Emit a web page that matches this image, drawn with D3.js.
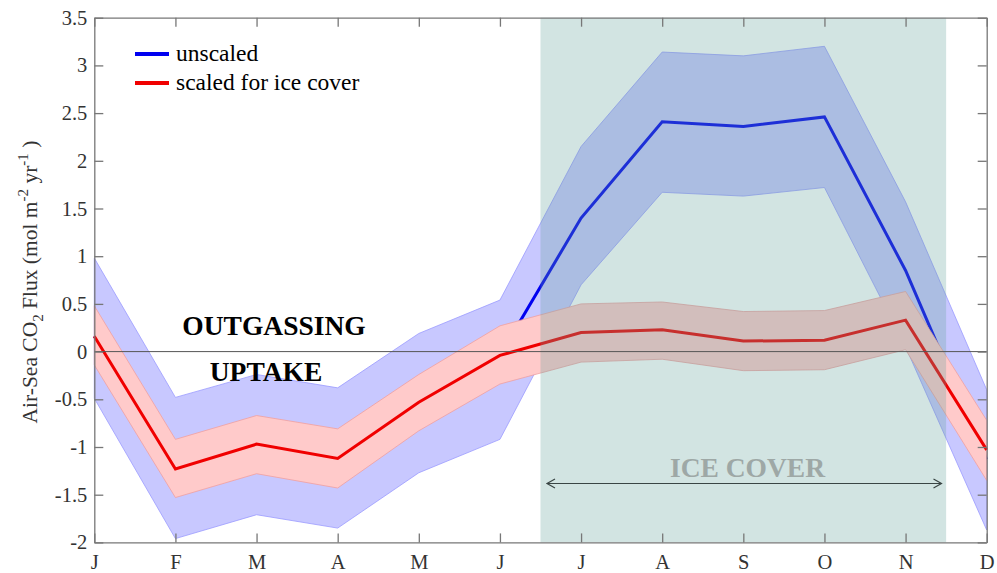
<!DOCTYPE html>
<html>
<head>
<meta charset="utf-8">
<script src="https://cdn.jsdelivr.net/npm/d3@7"></script>
<style>
  body { margin: 0; background: #fff; }
  svg { display: block; font-family: "Liberation Serif", "Times New Roman", serif; }
</style>
</head>
<body>
<script>
// month labels on the x axis
const months = ["J", "F", "M", "A", "M", "J", "J", "A", "S", "O", "N", "D"];
const yTicks = [-2, -1.5, -1, -0.5, 0, 0.5, 1, 1.5, 2, 2.5, 3, 3.5];

// unscaled flux, mean and 95% band
const unscaledMean  = [0.16, -1.23, -0.97, -1.12, -0.53, -0.04, 1.40, 2.41, 2.36, 2.46, 0.85, -1.13];
const unscaledUpper = [0.98, -0.48, -0.24, -0.38, 0.19, 0.54, 2.15, 3.14, 3.10, 3.20, 1.57, -0.40];
const unscaledLower = [-0.49, -1.96, -1.71, -1.85, -1.27, -0.92, 0.70, 1.67, 1.63, 1.72, 0.05, -1.87];

// flux scaled for ice cover
const scaledMean  = [0.16, -1.23, -0.97, -1.12, -0.53, -0.04, 0.20, 0.23, 0.11, 0.12, 0.33, -1.03];
const scaledUpper = [0.48, -0.92, -0.67, -0.81, -0.24, 0.27, 0.50, 0.52, 0.42, 0.43, 0.63, -0.72];
const scaledLower = [-0.14, -1.53, -1.28, -1.43, -0.83, -0.34, -0.11, -0.08, -0.20, -0.19, 0.02, -1.35];

// ice cover period (month index)
const iceSpan = [5.5, 10.5];

const width = 997, height = 573;
const marginLeft = 94.3, marginRight = 10.3, marginTop = 17.7, marginBottom = 30.6;

const xScale = d3.scaleLinear([0, 11], [marginLeft, width - marginRight]);
const yScale = d3.scaleLinear([-2, 3.5], [height - marginBottom, marginTop]);
const I = d3.range(months.length);

const svg = d3.select("body").append("svg")
      .attr("width", width)
      .attr("height", height)
      .attr("viewBox", [0, 0, width, height]);

function band(lo, hi) {
      return d3.area()
            .x(i => xScale(i))
            .y0(i => yScale(lo[i]))
            .y1(i => yScale(hi[i]))(I);
}
function line(v) {
      return d3.line()
            .x(i => xScale(i))
            .y(i => yScale(v[i]))(I);
}

// unscaled band + line
svg.append("path")
      .attr("d", band(unscaledLower, unscaledUpper))
      .attr("fill", "#c8c8ff")
      .attr("stroke", "#9a9aff")
      .attr("stroke-width", 0.8);
svg.append("path")
      .attr("d", line(unscaledMean))
      .attr("fill", "none")
      .attr("stroke", "#0000f0")
      .attr("stroke-width", 3);

// scaled band + line
svg.append("path")
      .attr("d", band(scaledLower, scaledUpper))
      .attr("fill", "#ffcaca")
      .attr("stroke", "#f0a0a0")
      .attr("stroke-width", 0.8);
svg.append("path")
      .attr("d", line(scaledMean))
      .attr("fill", "none")
      .attr("stroke", "#f00000")
      .attr("stroke-width", 3);

// ice cover shading, drawn over the data
svg.append("rect")
      .attr("x", xScale(iceSpan[0]))
      .attr("y", yScale(3.5))
      .attr("width", xScale(iceSpan[1]) - xScale(iceSpan[0]))
      .attr("height", yScale(-2) - yScale(3.5))
      .attr("fill", "rgb(100,162,155)")
      .attr("fill-opacity", 0.29);

// zero line
svg.append("line")
      .attr("x1", xScale(0))
      .attr("x2", xScale(11))
      .attr("y1", yScale(0))
      .attr("y2", yScale(0))
      .attr("stroke", "#555")
      .attr("stroke-width", 1);

// axes, box with inward ticks
const axisColor = "#777";
const styleAxis = g => {
      g.select(".domain").attr("stroke", axisColor).attr("stroke-width", 1.3);
      g.selectAll(".tick line").attr("stroke", axisColor).attr("stroke-width", 1.3);
      g.selectAll(".tick text").attr("fill", "#333").attr("font-size", 20.5)
            .attr("font-family", "Liberation Serif, serif");
};

svg.append("g")
      .attr("transform", `translate(0,${yScale(-2)})`)
      .call(d3.axisBottom(xScale).tickValues(I).tickFormat(i => months[i])
            .tickSizeInner(-9).tickSizeOuter(0).tickPadding(12))
      .call(styleAxis);
svg.append("g")
      .attr("transform", `translate(0,${yScale(3.5)})`)
      .call(d3.axisTop(xScale).tickValues(I).tickFormat("")
            .tickSizeInner(-9).tickSizeOuter(0))
      .call(styleAxis);
svg.append("g")
      .attr("transform", `translate(${xScale(0)},0)`)
      .call(d3.axisLeft(yScale).tickValues(yTicks).tickFormat(d => String(d))
            .tickSizeInner(-9).tickSizeOuter(0).tickPadding(7))
      .call(styleAxis);
svg.append("g")
      .attr("transform", `translate(${xScale(11)},0)`)
      .call(d3.axisRight(yScale).tickValues(yTicks).tickFormat("")
            .tickSizeInner(-9).tickSizeOuter(0))
      .call(styleAxis);

// y label
const yLabel = svg.append("text")
      .attr("transform", `translate(37,${(yScale(3.5) + yScale(-2)) / 2 + 2}) rotate(-90)`)
      .attr("text-anchor", "middle")
      .attr("font-size", 21.5)
      .attr("fill", "#333");
yLabel.append("tspan").text("Air-Sea CO");
yLabel.append("tspan").attr("font-size", 15).attr("dy", 6).text("2");
yLabel.append("tspan").attr("dy", -6).text(" Flux (mol m");
yLabel.append("tspan").attr("font-size", 15).attr("dy", -9).text("-2");
yLabel.append("tspan").attr("dy", 9).text(" yr");
yLabel.append("tspan").attr("font-size", 15).attr("dy", -9).text("-1");
yLabel.append("tspan").attr("dy", 9).text(" )");

// legend
const legend = [
      {label: "unscaled", color: "#0000f0", y: 54},
      {label: "scaled for ice cover", color: "#f00000", y: 83}
];
legend.forEach(d => {
      svg.append("line")
            .attr("x1", 135).attr("x2", 169)
            .attr("y1", d.y).attr("y2", d.y)
            .attr("stroke", d.color)
            .attr("stroke-width", 4);
      svg.append("text")
            .attr("x", 176).attr("y", d.y + 7)
            .attr("font-size", 23.5)
            .attr("fill", "#000")
            .text(d.label);
});

// annotations
svg.append("text")
      .attr("x", 274).attr("y", 335)
      .attr("text-anchor", "middle")
      .attr("font-size", 27.5).attr("font-weight", "bold")
      .text("OUTGASSING");
svg.append("text")
      .attr("x", 266).attr("y", 381)
      .attr("text-anchor", "middle")
      .attr("font-size", 27.5).attr("font-weight", "bold")
      .text("UPTAKE");

svg.append("text")
      .attr("x", 747.5).attr("y", 477)
      .attr("text-anchor", "middle")
      .attr("font-size", 27.5).attr("font-weight", "bold")
      .attr("fill", "#9ea8a6")
      .text("ICE COVER");

// double arrow across ice cover period
const ay = 483.5, ax1 = 547, ax2 = 941.5;
svg.append("line")
      .attr("x1", ax1).attr("x2", ax2)
      .attr("y1", ay).attr("y2", ay)
      .attr("stroke", "#3a4544").attr("stroke-width", 1.2);
svg.append("path")
      .attr("d", `M${ax1 + 8},${ay - 4.5}L${ax1},${ay}L${ax1 + 8},${ay + 4.5}M${ax2 - 8},${ay - 4.5}L${ax2},${ay}L${ax2 - 8},${ay + 4.5}`)
      .attr("fill", "none")
      .attr("stroke", "#3a4544").attr("stroke-width", 1.2);
</script>
</body>
</html>
